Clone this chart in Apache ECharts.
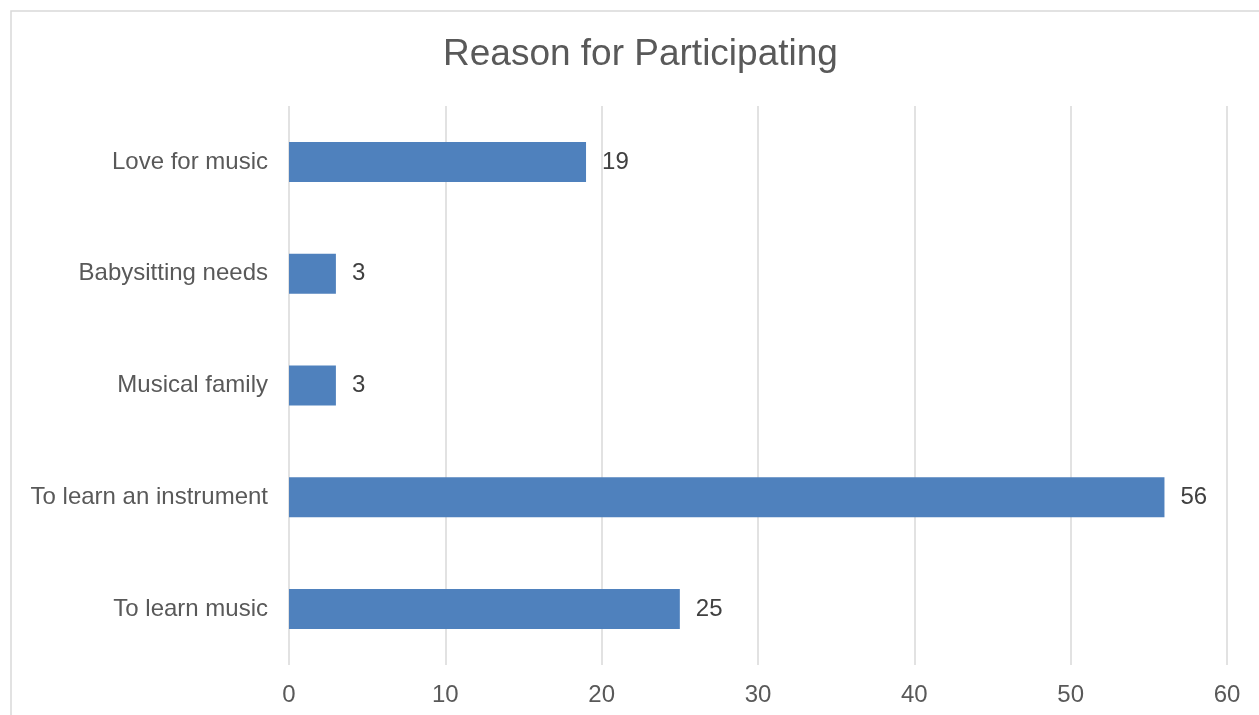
<!DOCTYPE html>
<html>
<head>
<meta charset="utf-8">
<script src="https://cdn.jsdelivr.net/npm/echarts@6/dist/echarts.min.js"></script>
<style>
html,body{margin:0;padding:0;background:#fff;}
#chart{width:1259px;height:715px;}
</style>
</head>
<body>
<div id="chart"></div>
<script>
const categories = ['To learn music', 'To learn an instrument', 'Musical family', 'Babysitting needs', 'Love for music'];
const values = [25, 56, 3, 3, 19];
const xTicks = { min: 0, max: 60, interval: 10 };
const titleText = 'Reason for Participating';

const chart = echarts.init(document.getElementById('chart'), null, { renderer: 'canvas' });
const font = '"Liberation Sans", Arial, sans-serif';
chart.setOption({
  animation: false,
  backgroundColor: '#ffffff',
  title: {
    text: titleText,
    left: 438,
    top: 31,
    textStyle: { fontFamily: font, fontSize: 37, fontWeight: 'normal', color: '#595959' }
  },
  graphic: [{
    type: 'rect',
    silent: true,
    z: -1,
    shape: { x: 11, y: 11, width: 1400, height: 900 },
    style: { fill: 'none', stroke: '#d9d9d9', lineWidth: 1.5 }
  }],
  grid: { left: 289, right: 32, top: 106, bottom: 50, containLabel: false },
  xAxis: {
    type: 'value',
    min: xTicks.min, max: xTicks.max, interval: xTicks.interval,
    axisLine: { show: false },
    axisTick: { show: false },
    axisLabel: { fontFamily: font, fontSize: 24, color: '#595959', margin: 18 },
    splitLine: { show: true, lineStyle: { color: '#d9d9d9', width: 1.5 } }
  },
  yAxis: {
    type: 'category',
    data: categories,
    axisLine: { show: false },
    axisTick: { show: false },
    axisLabel: { fontFamily: font, fontSize: 24, color: '#595959', margin: 21 }
  },
  series: [{
    type: 'bar',
    data: values,
    barWidth: 40,
    itemStyle: { color: '#4f81bd' },
    label: {
      show: true, position: 'right', distance: 16,
      fontFamily: font, fontSize: 24, color: '#404040'
    }
  }]
});
</script>
</body>
</html>
